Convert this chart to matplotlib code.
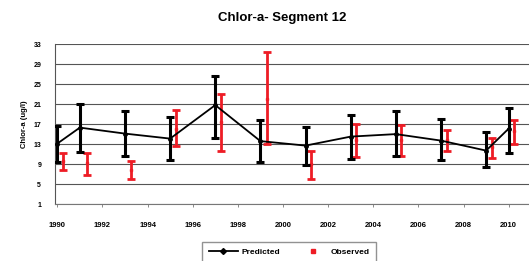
import matplotlib.pyplot as plt
import numpy as np

plt.rcParams['font.family'] = ['Liberation Sans', 'DejaVu Sans']

# 予測値（黒）
pred_year = [1990, 1991, 1993, 1995, 1997, 1999, 2001, 2003, 2005, 2007, 2009, 2010]
pred_mid = [13.1, 16.3, 15.1, 14.1, 20.8, 13.6, 12.7, 14.5, 15.0, 13.7, 11.7, 16.1]
pred_hi = [16.7, 21.0, 19.6, 18.5, 26.7, 17.8, 16.5, 18.8, 19.6, 18.1, 15.5, 20.3]
pred_lo = [9.5, 11.5, 10.6, 9.9, 14.3, 9.5, 8.9, 10.1, 10.6, 9.8, 8.5, 11.3]

# 観測値（赤）
obs_year = [1990.25, 1991.3, 1993.25, 1995.25, 1997.25, 1999.3, 2001.25, 2003.25, 2005.25, 2007.25, 2009.25, 2010.25]
obs_mid = [9.7, 9.3, 7.9, 16.0, 17.5, 22.1, 9.0, 13.8, 13.8, 13.8, 12.4, 15.6]
obs_hi = [11.3, 11.2, 9.7, 19.8, 23.0, 31.5, 11.7, 17.1, 16.9, 15.9, 14.3, 17.8]
obs_lo = [7.9, 6.8, 6.1, 12.6, 11.7, 13.1, 6.0, 10.5, 10.6, 11.7, 10.3, 13.0]

yticks = [1, 5, 9, 13, 17, 21, 25, 29, 33]
xticks = list(range(1990, 2011, 2))

fig = plt.figure(figsize=(5.29, 2.61), dpi=100)
ax = fig.add_axes([0.104, 0.218, 0.896, 0.613])

pm = np.array(pred_mid)
om = np.array(obs_mid)
perr = [pm - np.array(pred_lo), np.array(pred_hi) - pm]
oerr = [om - np.array(obs_lo), np.array(obs_hi) - om]

ax.errorbar(obs_year, obs_mid, yerr=oerr, fmt='s', color='#ee1c25', ms=2,
            ecolor='#ee1c25', elinewidth=2.0, capsize=3, capthick=2.0, zorder=3)
ax.errorbar(pred_year, pred_mid, yerr=perr, fmt='-', color='black', lw=1.3,
            ecolor='black', elinewidth=2.2, capsize=3, capthick=2.2,
            marker='o', ms=2.5, zorder=4)

# 凡例用のダミー
lp, = ax.plot([], [], '-', color='black', marker='D', ms=3, lw=1.3)
lo, = ax.plot([], [], 's', color='#ee1c25', ms=3.5, lw=0)

ax.set_xlim(1989.9, 2010.9)
ax.set_ylim(1, 33)
ax.set_yticks(yticks)
ax.set_xticks(xticks)
ax.set_yticklabels([str(v) for v in yticks], fontsize=5, fontweight='bold')
ax.set_xticklabels([str(v) for v in xticks], fontsize=5.5, fontweight='bold')
ax.tick_params(axis='y', length=0, pad=10)
ax.tick_params(axis='x', length=2, width=0.6, color='#777777', pad=11)
ax.yaxis.grid(True, color='#555555', lw=0.8)
ax.set_axisbelow(True)
for s in ['top', 'right']:
    ax.spines[s].set_visible(False)
ax.spines['left'].set_color('#555555')
ax.spines['bottom'].set_color('#777777')
ax.spines['left'].set_linewidth(0.8)
ax.spines['bottom'].set_linewidth(0.8)

ax.set_ylabel('Chlor-a (ug/l)', fontsize=5.5, fontweight='bold', labelpad=4)
fig.text(0.533, 0.93, 'Chlor-a- Segment 12', fontsize=9.5, fontweight='bold', ha='center', va='center')

leg = fig.legend([lp, lo], ['Predicted', 'Observed'], loc='upper left',
                 bbox_to_anchor=(0.374, 0.09), ncol=2, fontsize=6,
                 frameon=True, fancybox=False, edgecolor='#777777',
                 handlelength=3.5, handletextpad=0.4, columnspacing=2.2,
                 borderpad=0.8)
leg.get_frame().set_linewidth(1.0)
for t in leg.get_texts():
    t.set_fontweight('bold')

fig.savefig('out.png', dpi=100)
